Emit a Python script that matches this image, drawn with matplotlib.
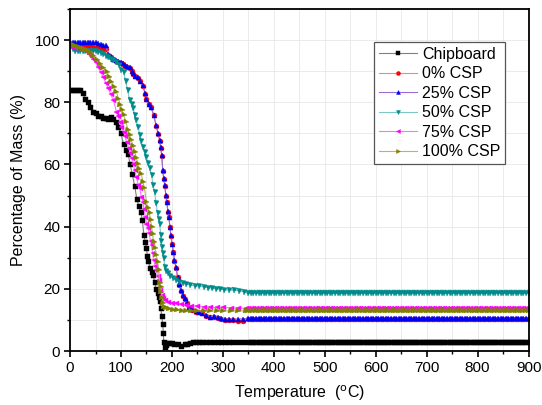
import numpy as np
import matplotlib.pyplot as plt
from matplotlib.ticker import MultipleLocator

plt.rcParams['font.family'] = ['Liberation Sans', 'DejaVu Sans']

# TGA data (temperature in C, mass in %)
chip_T = [0, 5, 10, 15, 20, 25, 30, 35, 40, 45,
          50, 55, 60, 65, 70, 75, 80, 85, 90, 95,
          100, 105, 110, 114, 118, 122, 127, 131, 135, 139,
          142, 145, 148, 150, 152, 154, 157, 160, 163, 166,
          169, 172, 174, 176, 178, 180, 182, 183, 184, 186,
          188, 191, 195, 200, 205, 211, 218, 225, 230, 235,
          241, 247, 254, 260, 267, 275, 283, 290, 297, 305,
          312, 320, 330, 340]
chip_m = [84.0, 84.0, 84.0, 84.0, 84.0, 83.0, 81.0, 80.0, 78.5, 77.0,
          76.5, 75.5, 75.5, 75.0, 75.0, 74.5, 75.3, 74.5, 73.5, 72.0,
          70.0, 66.5, 64.5, 63.5, 60.0, 57.0, 53.0, 49.0, 46.5, 44.7,
          42.0, 37.3, 35.0, 33.0, 30.5, 29.0, 26.7, 25.5, 24.4, 22.3,
          20.0, 18.6, 17.5, 16.2, 13.8, 11.3, 8.7, 5.9, 3.0, 1.4,
          2.0, 2.5, 2.6, 2.6, 2.4, 2.3, 1.7, 2.3, 2.4, 2.6,
          2.8, 3.0, 3.0, 3.0, 3.0, 3.0, 3.0, 3.0, 3.0, 3.0,
          3.0, 3.0, 3.0, 3.0]

csp25_T = [0, 5, 10, 15, 20, 25, 30, 35, 40, 45,
           50, 55, 60, 65, 70, 75, 80, 85, 90, 95,
           100, 104, 108, 112, 117, 121, 124, 128, 133, 138,
           143, 147, 150, 155, 159, 164, 169, 173, 176, 178,
           180, 182, 184, 186, 188, 190, 192, 194, 196, 198,
           200, 203, 205, 208, 211, 214, 218, 221, 225, 230,
           234, 240, 247, 254, 260, 267, 275, 283, 290, 297,
           305, 312, 320, 330, 340]
csp25_m = [99.5, 99.5, 99.4, 99.5, 99.5, 99.4, 99.5, 99.5, 99.4, 99.5,
           99.3, 99.0, 98.8, 98.5, 98.4, 95.5, 94.8, 94.0, 93.5, 93.2,
           92.8, 92.5, 92.0, 91.6, 91.2, 90.2, 89.3, 88.5, 88.0, 87.0,
           85.5, 83.0, 81.2, 79.5, 78.6, 76.0, 72.7, 70.0, 67.8, 65.5,
           63.0, 58.2, 55.5, 53.4, 50.2, 48.0, 45.0, 43.2, 40.0, 37.3,
           34.5, 32.0, 29.3, 27.0, 23.9, 21.5, 19.6, 18.0, 16.9, 15.5,
           14.2, 13.5, 12.8, 12.6, 12.3, 11.5, 11.0, 11.3, 10.8, 10.5,
           10.3, 10.3, 10.2, 10.3, 10.4]
csp0_m = [98.5, 98.4, 98.3, 98.2, 98.0, 97.9, 97.8, 97.8, 97.7, 97.7,
          97.6, 97.5, 97.4, 97.2, 97.0, 95.3, 94.6, 93.8, 93.3, 93.0,
          92.6, 92.3, 91.8, 91.4, 91.0, 90.0, 89.1, 88.3, 87.8, 86.8,
          85.3, 82.8, 81.0, 79.3, 78.4, 75.8, 72.5, 69.8, 67.6, 65.3,
          62.8, 58.0, 55.3, 53.2, 50.0, 47.8, 44.8, 43.0, 39.8, 37.1,
          34.3, 31.8, 29.1, 26.8, 23.7, 21.3, 19.4, 17.8, 16.7, 15.3,
          14.0, 13.3, 12.6, 12.4, 12.1, 11.3, 10.8, 11.1, 10.6, 10.3,
          10.1, 10.1, 10.0, 9.6, 9.5]

csp50_T = [0, 5, 10, 15, 20, 25, 30, 35, 40, 45,
           50, 55, 60, 65, 70, 75, 80, 85, 91, 97,
           101, 105, 109, 113, 117, 121, 124, 127, 130, 134,
           137, 140, 143, 147, 150, 153, 156, 160, 163, 166,
           169, 172, 174, 176, 178, 179, 181, 182, 184, 186,
           189, 192, 196, 202, 208, 214, 221, 228, 236, 245,
           254, 262, 270, 278, 286, 294, 303, 312, 322, 332,
           342]
csp50_m = [97.8, 97.0, 96.6, 96.5, 96.5, 96.6, 96.6, 96.5, 96.5, 96.5,
           96.4, 96.3, 96.0, 95.5, 95.0, 94.5, 94.0, 93.5, 93.0, 92.0,
           90.5, 89.8, 87.0, 84.0, 80.7, 79.5, 78.0, 76.0, 74.3, 72.0,
           69.5, 67.5, 65.7, 64.0, 62.5, 60.5, 58.7, 56.6, 53.4, 51.0,
           47.5, 44.3, 42.5, 41.0, 37.3, 35.5, 33.5, 31.5, 30.0, 26.9,
           25.8, 25.0, 24.2, 23.4, 22.7, 22.2, 21.8, 21.5, 21.2, 21.0,
           20.9, 20.6, 20.4, 20.2, 20.1, 19.9, 19.7, 19.6, 19.5, 19.4,
           19.0]

csp75_T = [0, 5, 10, 15, 20, 25, 29, 33, 37, 41,
           45, 50, 55, 60, 65, 70, 75, 80, 85, 91,
           94, 98, 101, 105, 108, 111, 115, 118, 121, 124,
           127, 130, 134, 137, 140, 143, 145, 148, 150, 153,
           155, 158, 160, 162, 164, 167, 169, 172, 174, 177,
           180, 182, 186, 192, 200, 208, 218, 228, 238, 250,
           262, 275, 288, 300, 315, 330, 345]
csp75_m = [98.0, 97.8, 97.6, 97.5, 97.3, 97.1, 96.8, 96.2, 95.5, 94.8,
           94.0, 92.8, 91.4, 89.8, 88.2, 86.3, 84.5, 82.5, 80.7, 77.0,
           75.5, 73.7, 72.0, 70.5, 69.0, 67.3, 65.4, 63.6, 62.0, 60.3,
           58.2, 56.0, 53.5, 52.3, 49.5, 48.0, 45.8, 43.0, 41.0, 39.5,
           37.8, 35.5, 34.0, 31.5, 29.3, 27.5, 26.0, 24.2, 22.8, 19.6,
           18.0, 16.9, 16.3, 15.9, 15.6, 15.3, 15.0, 14.8, 14.6, 14.4,
           14.2, 14.1, 14.0, 14.0, 13.9, 13.8, 13.7]

csp100_T = [0, 5, 10, 15, 20, 25, 30, 35, 40, 45,
            52, 58, 65, 72, 77, 81, 86, 91, 95, 99,
            102, 105, 110, 114, 117, 120, 124, 127, 130, 133,
            136, 140, 143, 146, 150, 153, 156, 158, 160, 162,
            164, 167, 169, 172, 174, 176, 178, 179, 181, 182,
            185, 189, 195, 202, 210, 219, 228, 238, 250, 262,
            275, 288, 300, 315, 330, 345]
csp100_m = [98.5, 98.3, 98.0, 97.8, 97.5, 97.2, 96.9, 96.5, 95.8, 95.0,
            93.5, 92.3, 91.0, 89.8, 88.2, 86.6, 85.0, 83.4, 81.2, 79.0,
            77.5, 75.9, 73.5, 71.0, 69.4, 67.8, 65.9, 64.0, 62.1, 60.3,
            58.5, 57.0, 54.4, 52.3, 48.0, 46.0, 44.3, 42.0, 40.0, 37.5,
            35.1, 33.0, 30.9, 28.5, 26.0, 21.8, 20.5, 19.1, 17.0, 15.3,
            14.3, 13.7, 13.4, 13.2, 13.1, 13.0, 12.9, 12.9, 12.9, 12.9,
            12.9, 12.9, 12.9, 12.9, 12.9, 12.9]

# flat residue plateau up to 900 C (level)
tail_T = list(range(350, 905, 5))
residue = {'Chipboard': 3.0, '0% CSP': 10.2, '25% CSP': 10.5,
           '50% CSP': 18.5, '75% CSP': 13.7, '100% CSP': 12.9}

series = [
    ('Chipboard', chip_T, chip_m, 'black', '#808080', 's'),
    ('0% CSP', csp25_T, csp0_m, 'red', '#ff8080', 'o'),
    ('25% CSP', csp25_T, csp25_m, '#0000ee', '#9a6ad8', '^'),
    ('50% CSP', csp50_T, csp50_m, '#008b8b', '#7fc6c6', 'v'),
    ('75% CSP', csp75_T, csp75_m, '#ff00ff', '#ff70ff', '<'),
    ('100% CSP', csp100_T, csp100_m, '#808000', '#b8b860', '>'),
]

fig = plt.figure(figsize=(5.42, 4.05), dpi=100)
ax = fig.add_axes([0.1292, 0.1333, 0.846, 0.8445])

for name, T, m, mc, lc, mk in series:
    x = T + tail_T
    y = m + [residue[name]] * len(tail_T)
    ax.plot(x, y, color=lc, lw=0.8, marker=mk, ms=3.6,
            markerfacecolor=mc, markeredgecolor=mc, markeredgewidth=0.3,
            label=name)

ax.set_xlim(0, 900)
ax.set_ylim(0, 110)
ax.xaxis.set_major_locator(MultipleLocator(100))
ax.xaxis.set_minor_locator(MultipleLocator(50))
ax.yaxis.set_major_locator(MultipleLocator(20))
ax.yaxis.set_minor_locator(MultipleLocator(10))
ax.grid(True, which='both', color='#e8e8e8', lw=0.6)
ax.set_axisbelow(True)

ax.tick_params(which='major', direction='out', length=4, width=1.2,
               labelsize=11, top=False, right=False, pad=3)
ax.tick_params(which='minor', direction='out', length=2.5, width=1,
               top=False, right=False)
for s in ax.spines.values():
    s.set_linewidth(1.3)

ax.set_xlabel('Temperature  ($^{\\mathrm{o}}$C)', fontsize=11.5, labelpad=6)
ax.set_ylabel('Percentage of Mass (%)', fontsize=11.5, labelpad=6)

leg = ax.legend(loc='upper right', bbox_to_anchor=(0.9317, 0.8963),
                bbox_transform=fig.transFigure, borderaxespad=0,
                fontsize=11.5, handlelength=2.4, handletextpad=0.3,
                labelspacing=0.28, borderpad=0.3, fancybox=False,
                framealpha=1, markerscale=0.8)
leg.get_frame().set_edgecolor('#555555')
leg.get_frame().set_linewidth(0.9)

plt.savefig('out.png', dpi=100)
